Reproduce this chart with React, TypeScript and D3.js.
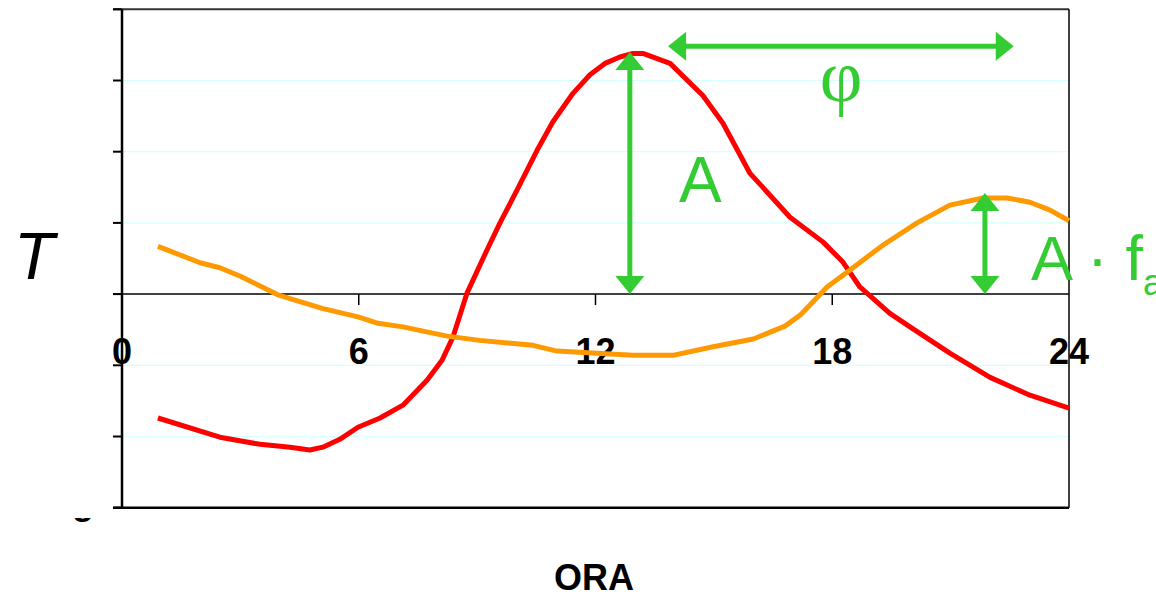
import React from "react";
import * as d3 from "d3";

// Diurnal temperature curves: air (red) and the damped, lagged wave (orange)
const airHours = [0.91, 2.48, 3.5, 4.26, 4.76, 5.09, 5.52, 5.98, 6.54, 7.12, 7.73, 8.11, 8.39, 8.74, 9.25, 9.58, 10.01, 10.52, 10.92, 11.43, 11.86, 12.24, 12.62, 12.95, 13.2, 13.89, 14.72, 15.23, 15.91, 16.93, 17.77, 18.27, 18.7, 19.46, 19.97, 20.98, 22.0, 23.01, 24];
const airTemps = [-1.74, -2.01, -2.11, -2.15, -2.19, -2.15, -2.04, -1.87, -1.74, -1.56, -1.21, -0.93, -0.6, 0.01, 0.62, 1.0, 1.46, 2.02, 2.42, 2.82, 3.08, 3.24, 3.33, 3.38, 3.38, 3.24, 2.79, 2.4, 1.7, 1.08, 0.73, 0.45, 0.1, -0.27, -0.46, -0.83, -1.17, -1.42, -1.6];

const wallHours = [0.91, 1.98, 2.48, 3.0, 3.95, 5.07, 5.98, 6.49, 7.12, 8.24, 9.07, 10.42, 11.02, 12.95, 13.96, 14.98, 16.0, 16.8, 17.2, 17.87, 18.45, 19.29, 20.15, 20.98, 21.82, 22.43, 23.01, 23.52, 24];
const wallTemps = [0.67, 0.44, 0.37, 0.25, -0.01, -0.2, -0.32, -0.41, -0.46, -0.59, -0.65, -0.72, -0.8, -0.86, -0.86, -0.74, -0.63, -0.45, -0.29, 0.1, 0.34, 0.69, 1.0, 1.25, 1.35, 1.35, 1.29, 1.18, 1.03];

const xTickValues = [0, 6, 12, 18, 24];
const yTickValues = [-3, -2, -1, 0, 1, 2, 3, 4];

// Annotation arrows (in data units)
const amplitudeArrow = { hour: 12.87, from: 0, to: 3.4 };
const phaseArrow = { level: 3.48, from: 13.84, to: 22.6 };
const dampedArrow = { hour: 21.87, from: 0, to: 1.42 };

const W = 1156;
const H = 596;
const left = 122;
const right = 1069;
const top = 9.3;
const bottom = 507.7;

const GREEN = "#33cc33";

export default function App() {
  const x = d3.scaleLinear().domain([0, 24]).range([left, right]);
  const y = d3.scaleLinear().domain([-3, 4]).range([bottom, top]);

  const line = d3
    .line<[number, number]>()
    .x((d) => x(d[0]))
    .y((d) => y(d[1]))
    .curve(d3.curveLinear);

  const air = airHours.map((h, i) => [h, airTemps[i]] as [number, number]);
  const wall = wallHours.map((h, i) => [h, wallTemps[i]] as [number, number]);

  const headLen = 18;
  const headHalf = 14.5;

  const vArrow = (a: { hour: number; from: number; to: number }, key: string) => {
    const cx = x(a.hour);
    const y0 = y(a.from);
    const y1 = y(a.to);
    return (
      <g key={key} fill={GREEN}>
        <line x1={cx} x2={cx} y1={y1 + headLen - 2} y2={y0 - headLen + 2} stroke={GREEN} strokeWidth={5} />
        <polygon points={`${cx},${y1} ${cx - headHalf},${y1 + headLen} ${cx + headHalf},${y1 + headLen}`} />
        <polygon points={`${cx},${y0} ${cx - headHalf},${y0 - headLen} ${cx + headHalf},${y0 - headLen}`} />
      </g>
    );
  };

  const hx0 = x(phaseArrow.from);
  const hx1 = x(phaseArrow.to);
  const hy = y(phaseArrow.level);

  return (
    <svg
      width={W}
      height={H}
      style={{ position: "absolute", left: 0, top: 0, background: "#fff" }}
      fontFamily="'Liberation Sans', Arial, sans-serif"
    >
      <rect width={W} height={H} fill="#fff" />

      {/* horizontal gridlines */}
      {yTickValues
        .filter((v) => v !== 0 && v !== -3 && v !== 4)
        .map((v) => (
          <line key={`g${v}`} x1={left} x2={right} y1={y(v)} y2={y(v)} stroke="#d6ffff" strokeWidth={1.2} />
        ))}

      {/* plot frame */}
      <line x1={left - 9} x2={right} y1={top} y2={top} stroke="#333" strokeWidth={2} />
      <line x1={left - 9} x2={right} y1={bottom} y2={bottom} stroke="#000" strokeWidth={2.5} />
      <line x1={right} x2={right} y1={top} y2={bottom} stroke="#000" strokeWidth={1.5} />
      <line x1={left} x2={left} y1={top} y2={bottom + 1} stroke="#000" strokeWidth={2.5} />
      {yTickValues.map((v) => (
        <line key={`yt${v}`} x1={left - 9} x2={left} y1={y(v)} y2={y(v)} stroke="#000" strokeWidth={2} />
      ))}

      {/* zero line with hour ticks */}
      <line x1={left - 9} x2={right} y1={y(0)} y2={y(0)} stroke="#000" strokeWidth={1.5} />
      {xTickValues
        .filter((v) => v > 0 && v < 24)
        .map((v) => (
          <line key={`xt${v}`} x1={x(v)} x2={x(v)} y1={y(0)} y2={y(0) + 11} stroke="#000" strokeWidth={1.5} />
        ))}
      {xTickValues.map((v) => (
        <text key={`xl${v}`} x={x(v)} y={364} textAnchor="middle" fontSize={36} fontWeight="bold" fill="#000">
          {v}
        </text>
      ))}

      {/* series */}
      <path d={line(air) ?? ""} fill="none" stroke="#ff0000" strokeWidth={5} strokeLinejoin="round" />
      <path d={line(wall) ?? ""} fill="none" stroke="#ff9900" strokeWidth={5} strokeLinejoin="round" />

      {/* annotations */}
      {vArrow(amplitudeArrow, "amp")}
      {vArrow(dampedArrow, "damp")}
      <g fill={GREEN}>
        <line x1={hx0 + headLen - 2} x2={hx1 - headLen + 2} y1={hy} y2={hy} stroke={GREEN} strokeWidth={5} />
        <polygon points={`${hx0},${hy} ${hx0 + headLen},${hy - headHalf} ${hx0 + headLen},${hy + headHalf}`} />
        <polygon points={`${hx1},${hy} ${hx1 - headLen},${hy - headHalf} ${hx1 - headLen},${hy + headHalf}`} />
      </g>
      <text x={841} y={101} textAnchor="middle" fontSize={74} fontFamily="'Liberation Serif', 'Times New Roman', serif" fill={GREEN}>
        φ
      </text>
      <text x={679} y={202} fontSize={64} fill={GREEN}>
        A
      </text>
      <text x={1031} y={280} fontSize={63} fill={GREEN}>
        A · f
        <tspan fontSize={36} dy={15}>a</tspan>
      </text>

      {/* axis titles */}
      <text x={14} y={279} fontSize={66} fontStyle="italic" fill="#000">
        T
      </text>
      <text x={594} y={590} textAnchor="middle" fontSize={36} fontWeight="bold" fill="#000">
        ORA
      </text>

      {/* clipped remnant of a hidden label below the frame */}
      <g>
        <text x={72} y={514} fontSize={36} fontWeight="bold" fill="#000">g</text>
        <rect x={55} y={470} width={50} height={48} fill="#fff" />
      </g>
    </svg>
  );
}
